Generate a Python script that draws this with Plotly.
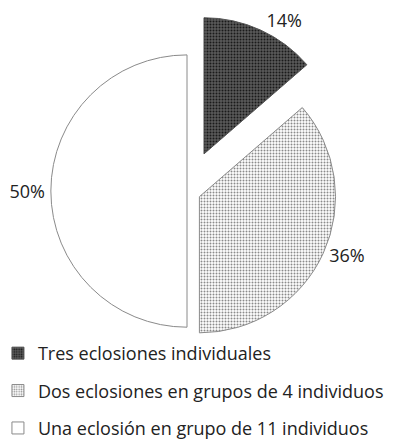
import plotly.graph_objects as go

categories = ["Tres eclosiones individuales",
              "Dos eclosiones en grupos de 4 individuos",
              "Una eclosión en grupo de 11 individuos"]
values = [3, 8, 11]
pulls = [0.3, 0.1, 0.0]

FONT = "Open Sans"
shapes_ = [".", ".", ""]
fg = ["#1a1a1a", "#8a8a8a", "#ffffff"]
bg = ["#5a5a5a", "#ffffff", "#ffffff"]
sizes = [3, 3, 3]
solid = [0.35, 0.35, 0.3]
outline = ["#555555", "#8a8a8a", "#8a8a8a"]

fig = go.Figure()
fig.add_trace(go.Pie(
    labels=categories,
    values=values,
    sort=False,
    direction="clockwise",
    rotation=0,
    pull=pulls,
    texttemplate="%{percent:.0%}",
    textposition="outside",
    textfont=dict(family=FONT, size=18, color="#222"),
    marker=dict(
        colors=bg,
        line=dict(color=outline, width=1),
        pattern=dict(shape=shapes_, fgcolor=fg, bgcolor=bg, size=sizes,
                     solidity=solid, fillmode="replace"),
    ),
    domain=dict(x=[0.005, 0.8856], y=[0.1945, 0.9865]),
    showlegend=False,
    hoverinfo="label+percent",
))

# legend entries (one per category, same fills as the slices)
for i, name in enumerate(categories):
    fig.add_trace(go.Bar(
        x=[None], y=[None], name=name, legendgroup=f"g{i}",
        marker=dict(color=bg[i], line=dict(color=outline[i], width=1),
                    pattern=dict(shape=shapes_[i], fgcolor=fg[i], bgcolor=bg[i],
                                 size=sizes[i], solidity=solid[i], fillmode="replace")),
        showlegend=True, hoverinfo="skip",
    ))

fig.update_layout(
    width=402, height=447,
    margin=dict(l=0, r=0, t=0, b=0, autoexpand=False),
    paper_bgcolor="white",
    plot_bgcolor="white",
    xaxis=dict(visible=False),
    yaxis=dict(visible=False),
    legend=dict(
        x=-0.025, y=0.018, xanchor="left", yanchor="bottom",
        orientation="v",
        font=dict(family=FONT, size=18, color="#222"),
        tracegroupgap=11,
        bgcolor="rgba(0,0,0,0)",
    ),
)

fig.write_html("out.html")
